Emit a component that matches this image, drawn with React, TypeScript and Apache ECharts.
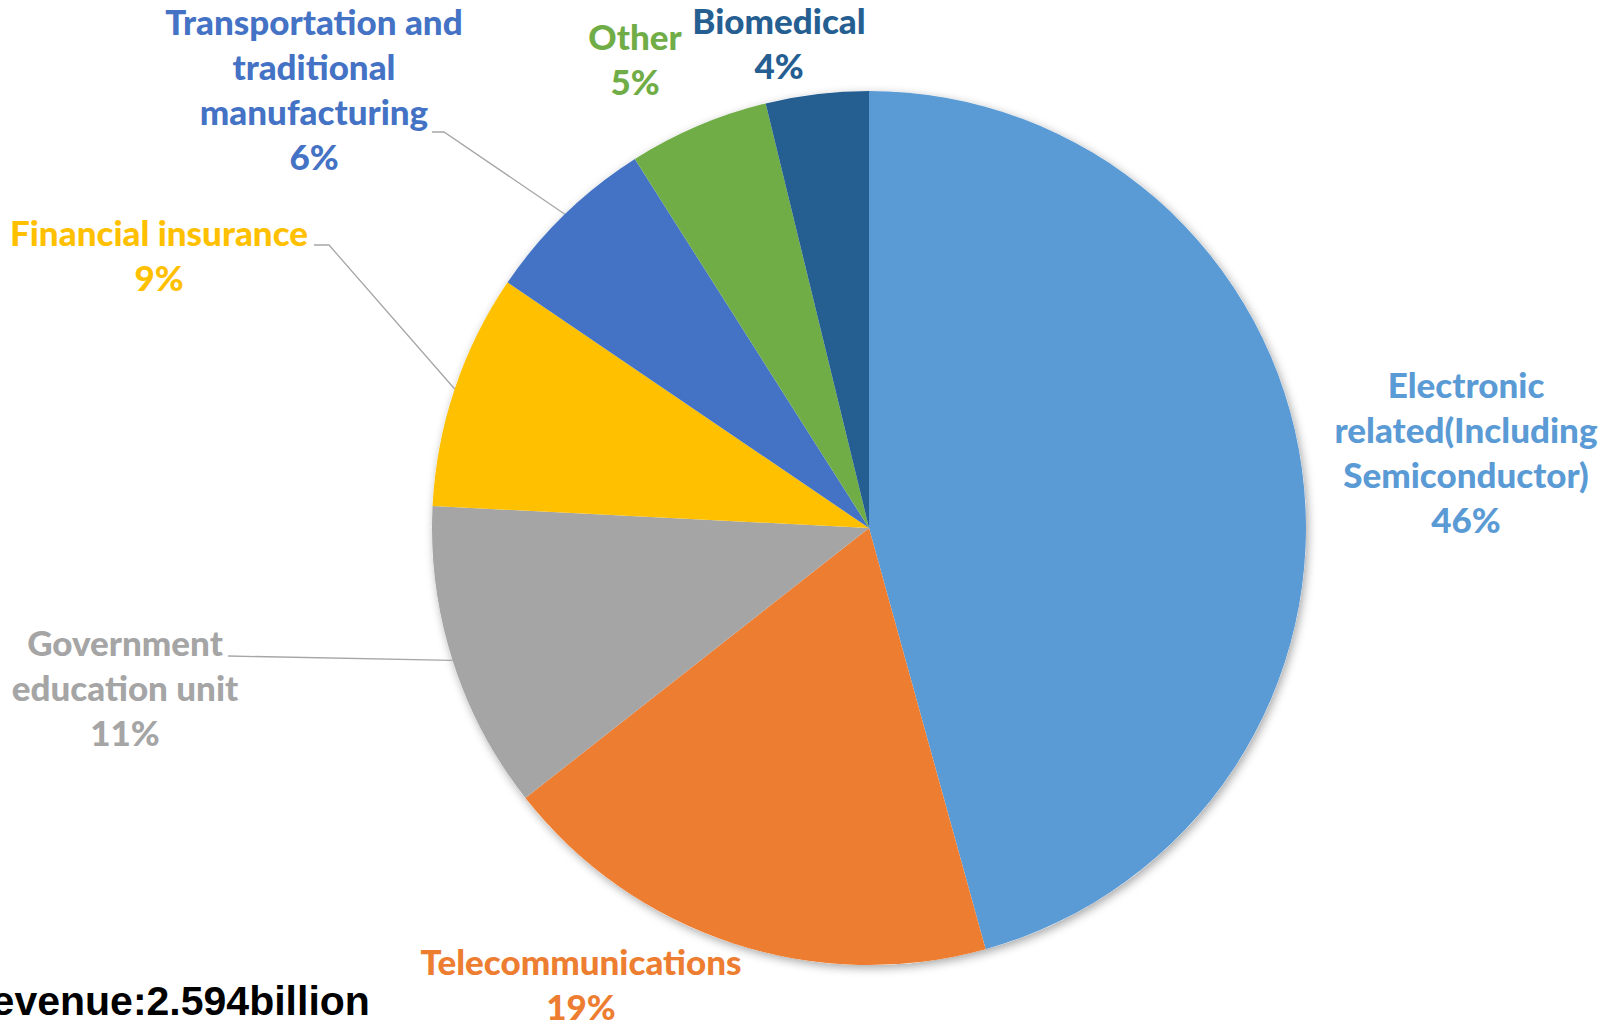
import React, { useEffect, useRef } from "react";
import * as echarts from "echarts";

const categories = [
  "Electronic\nrelated(Including\nSemiconductor)",
  "Telecommunications",
  "Government\neducation unit",
  "Financial insurance",
  "Transportation and\ntraditional\nmanufacturing",
  "Other",
  "Biomedical",
];
const shares = [45.7, 18.7, 11.4, 8.7, 6.5, 5.2, 3.8];
const colors = ["#5B9BD5", "#ED7D31", "#A5A5A5", "#FFC000", "#4472C4", "#70AD47", "#255E91"];
const revenueNote = "Revenue:2.594billion";

// layout: label centers and leader-line label-side points (pixels)
const CX = 869;
const CY = 528;
const R = 437;
const labelPos: [number, number][] = [
  [1466, 451],
  [581, 983],
  [125, 687],
  [159, 254],
  [314, 88],
  [635, 58],
  [779, 42],
];
const leaderPts: ([number, number][] | null)[] = [
  null,
  null,
  [[228, 656]],
  [[314, 245], [329, 245]],
  [[432, 132], [444, 132]],
  null,
  null,
];

export default function App() {
  const ref = useRef<HTMLDivElement>(null);
  useEffect(() => {
    document.body.style.margin = "0";
    const chart = echarts.init(ref.current!, undefined, { renderer: "svg" });
    const total = shares.reduce((a, b) => a + b, 0);
    const midAngles: number[] = [];
    let acc = 0;
    shares.forEach((v) => {
      midAngles.push(((acc + v / 2) / total) * Math.PI * 2);
      acc += v;
    });
    const font = "Lato, 'Open Sans', sans-serif";
    chart.setOption({
      animation: false,
      backgroundColor: "#ffffff",
      series: [
        {
          type: "pie",
          silent: true,
          center: [CX, CY],
          radius: R,
          z: 1,
          label: { show: false },
          labelLine: { show: false },
          data: [{ value: total, itemStyle: { color: "#ffffff", shadowBlur: 10, shadowColor: "rgba(0,0,0,0.35)", shadowOffsetX: 2, shadowOffsetY: 3 } }],
        },
        {
          type: "pie",
          center: [CX, CY],
          radius: R,
          z: 2,
          startAngle: 90,
          clockwise: true,
          percentPrecision: 0,
          avoidLabelOverlap: false,
          itemStyle: { borderWidth: 0 },
          label: {
            show: true,
            position: "outside",
            formatter: "{b}\n{d}%",
            fontFamily: font,
            fontWeight: 900,
            fontSize: 35,
            lineHeight: 45,
            align: "center",
          },
          labelLine: { show: true, lineStyle: { color: "#A6A6A6", width: 1.3 } },
          labelLayout: (params: any) => {
            const i = params.dataIndex;
            const [x, y] = labelPos[i];
            const out: any = { x, y, align: "center", verticalAlign: "middle" };
            const lp = leaderPts[i];
            if (lp) {
              const a = midAngles[i];
              const edge: [number, number] = [CX + R * Math.sin(a), CY - R * Math.cos(a)];
              const pts = lp.length === 1 ? [edge, edge, lp[0]] : [edge, lp[1], lp[0]];
              out.labelLinePoints = pts;
            }
            return out;
          },
          data: categories.map((name, i) => ({
            name,
            value: shares[i],
            itemStyle: { color: colors[i] },
            label: { color: colors[i] },
            labelLine: { show: leaderPts[i] !== null },
          })),
        },
      ],
      graphic: [
        {
          type: "text",
          x: -38,
          y: 1001,
          style: {
            text: revenueNote,
            fill: "#000000",
            font: "bold 41px 'Liberation Sans', Arial, sans-serif",
            textAlign: "left",
            textVerticalAlign: "middle",
          },
        },
      ],
    });
    return () => chart.dispose();
  }, []);
  return (
    <div
      ref={ref}
      style={{ position: "absolute", left: 0, top: 0, width: 1613, height: 1026 }}
    />
  );
}
